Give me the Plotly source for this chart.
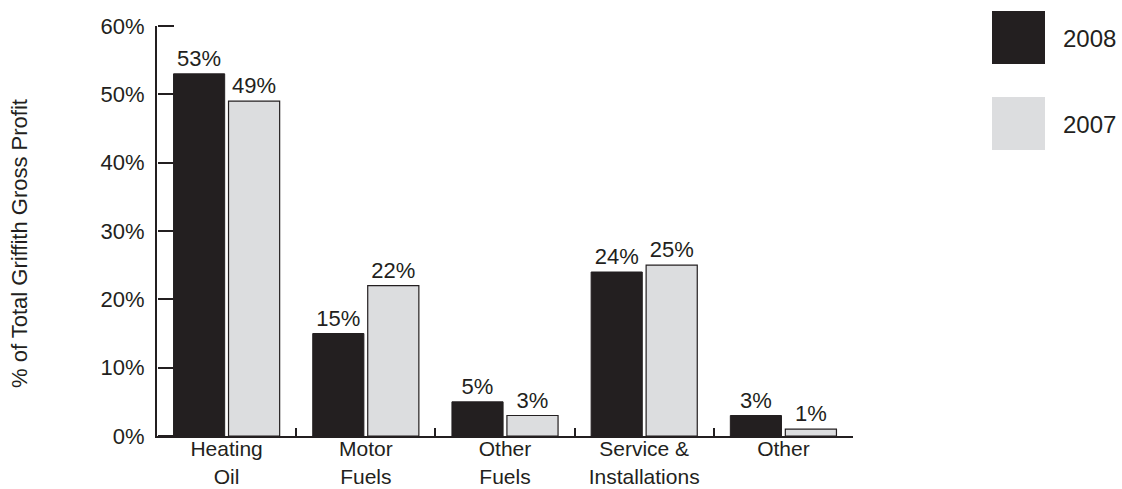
import plotly.graph_objects as go

# Share of Griffith gross profit by business line
categories = ["Heating<br>Oil", "Motor<br>Fuels", "Other<br>Fuels", "Service &<br>Installations", "Other"]
share_2008 = [53, 15, 5, 24, 3]
share_2007 = [49, 22, 3, 25, 1]
y_ticks = [0, 10, 20, 30, 40, 50, 60]

INK = "#231f20"
LIGHT = "#dcdddf"
FONT = "Liberation Sans, Arial, Helvetica, sans-serif"
FS = 22

fig = go.Figure()
fig.add_trace(go.Bar(
    x=categories, y=share_2008, name="2008",
    marker=dict(color=INK, line=dict(color=INK, width=1)),
    text=[f"{v}%" for v in share_2008], textposition="outside",
    textfont=dict(size=FS, color=INK, family=FONT), cliponaxis=False,
    showlegend=False,
))
fig.add_trace(go.Bar(
    x=categories, y=share_2007, name="2007",
    marker=dict(color=LIGHT, line=dict(color=INK, width=1.2)),
    text=[f"{v}%" for v in share_2007], textposition="outside",
    textfont=dict(size=FS, color=INK, family=FONT), cliponaxis=False,
    showlegend=False,
))
# Empty helper trace so the tick-mark axis below gets rendered
fig.add_trace(go.Scatter(
    x=categories, y=share_2007, yaxis="y2", mode="none",
    showlegend=False, hoverinfo="skip",
))

fig.update_layout(
    width=1122, height=489,
    margin=dict(l=157, r=269, t=26, b=53, autoexpand=False),
    paper_bgcolor="white", plot_bgcolor="white",
    font=dict(family=FONT, size=FS, color=INK),
    barmode="group", bargap=0.21, bargroupgap=0.07,
)
# Value axis: line and percentage labels on the left
fig.update_layout(yaxis=dict(
    range=[0, 60], tickmode="array", tickvals=y_ticks,
    ticktext=[f"{v}%" for v in y_ticks],
    showgrid=False, zeroline=False, showline=True, linecolor=INK, linewidth=2,
    ticks="", ticklabelstandoff=6,
    tickfont=dict(size=FS, color=INK), automargin=False,
))
# Companion axis on the same edge, used only for the inward-pointing tick marks
fig.update_layout(yaxis2=dict(
    overlaying="y", side="right", anchor="free", position=0,
    range=[0, 60], tickmode="array", tickvals=y_ticks, showticklabels=False,
    showgrid=False, zeroline=False, showline=False,
    ticks="outside", ticklen=16, tickwidth=2, tickcolor=INK, automargin=False,
))
fig.update_xaxes(
    showgrid=False, showline=True, linecolor=INK, linewidth=2,
    ticks="inside", tickson="boundaries", ticklen=8, tickwidth=2, tickcolor=INK,
    tickfont=dict(size=21, color=INK), automargin=False, ticklabelstandoff=-7,
)

# Pixel helpers for the paper-referenced decorations
PLOT_L, PLOT_R, PLOT_T, PLOT_B = 157, 853, 26, 436

def px_x(px):
    return (px - PLOT_L) / (PLOT_R - PLOT_L)

def px_y(py):
    return (PLOT_B - py) / (PLOT_B - PLOT_T)

# Axis title
fig.add_annotation(
    text="% of Total Griffith Gross Profit", textangle=-90,
    xref="paper", yref="paper", x=px_x(19), y=px_y(244),
    xanchor="center", yanchor="middle", showarrow=False,
    font=dict(size=FS, color=INK, family=FONT),
)

# Legend swatches and labels
for label, color, top in [("2008", INK, 11), ("2007", LIGHT, 97)]:
    fig.add_shape(
        type="rect", xref="paper", yref="paper",
        x0=px_x(992), x1=px_x(1045), y0=px_y(top + 53), y1=px_y(top),
        fillcolor=color, line=dict(width=0),
    )
    fig.add_annotation(
        text=label, xref="paper", yref="paper",
        x=px_x(1061), y=px_y(top + 27), xanchor="left", yanchor="middle",
        showarrow=False, font=dict(size=24, color=INK, family=FONT),
    )

fig.write_html("out.html")
